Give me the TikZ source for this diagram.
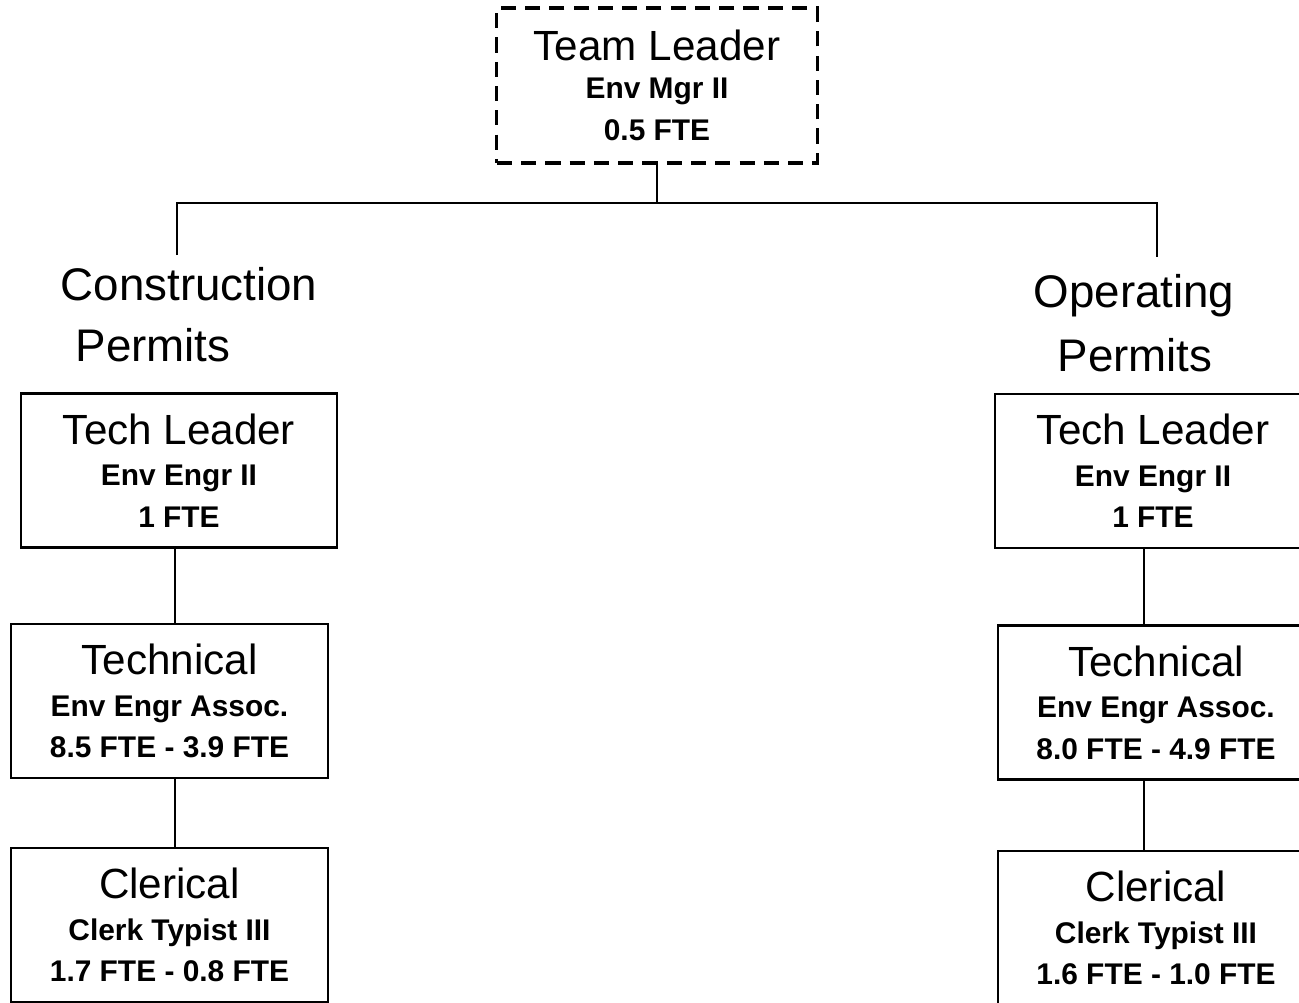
\documentclass[tikz,border=0pt]{standalone}
\usepackage{fontspec}
\setmainfont{Liberation Sans}
\usetikzlibrary{positioning}

\newcommand{\rolehead}[1]{{\mdseries\fontsize{12}{14}\selectfont #1}}

\tikzset{
  unitbox/.style={draw, line width=0.6pt, minimum width=3.16cm, minimum height=1.54cm,
    align=center, inner sep=0pt, font=\bfseries\fontsize{8.5}{11.8}\selectfont},
  leadbox/.style={unitbox, dash pattern=on 4.3pt off 2.6pt, line width=0.9pt,
    minimum width=3.2cm, minimum height=1.55cm},
  grouphead/.style={anchor=base, inner sep=0pt, font=\fontsize{13}{15}\selectfont},
  link/.style={line width=0.8pt}
}

\begin{document}
\begin{tikzpicture}[x=0.01cm,y=-0.01cm]
  \useasboundingbox (0,0) rectangle (1299,1003);
  \clip (0,0) rectangle (1299,1003);

  % team leader
  \node[leadbox] (lead) at (657,85.5) {\rolehead{Team Leader}\\[-1pt] Env Mgr II\\ 0.5 FTE};
  \coordinate (bus) at (657,203);
  \coordinate (dropL) at (177,255);
  \coordinate (dropR) at (1157,257);

  % group headings
  \node[grouphead] (consA) at (189,300) {Construction};
  \node[grouphead] (consB) at (153,361) {Permits};
  \node[grouphead] (operA) at (1134,307) {Operating};
  \node[grouphead] (operB) at (1135,371) {Permits};

  % construction permits
  \node[unitbox] (tlL) at (179,470.5) {\rolehead{Tech Leader}\\ Env Engr II\\ 1 FTE};
  \node[unitbox] (techL) at (169.5,701) {\rolehead{Technical}\\ Env Engr Assoc.\\ 8.5 FTE - 3.9 FTE};
  \node[unitbox] (clerL) at (169.5,925) {\rolehead{Clerical}\\ Clerk Typist III\\ 1.7 FTE - 0.8 FTE};

  % operating permits
  \node[unitbox] (tlR) at (1153,471) {\rolehead{Tech Leader}\\ Env Engr II\\ 1 FTE};
  \node[unitbox] (techR) at (1156,702.5) {\rolehead{Technical}\\ Env Engr Assoc.\\ 8.0 FTE - 4.9 FTE};
  \node[unitbox] (clerR) at (1156,928) {\rolehead{Clerical}\\ Clerk Typist III\\ 1.6 FTE - 1.0 FTE};

  % connectors
  \draw[link] (lead) -- (bus);
  \draw[link] (dropL) |- (bus) -| (dropR);
  \draw[link] (tlL.south -| 175,0) -- (techL.north -| 175,0);
  \draw[link] (techL.south -| 175,0) -- (clerL.north -| 175,0);
  \draw[link] (tlR.south -| 1144,0) -- (techR.north -| 1144,0);
  \draw[link] (techR.south -| 1144,0) -- (clerR.north -| 1144,0);
\end{tikzpicture}
\end{document}
